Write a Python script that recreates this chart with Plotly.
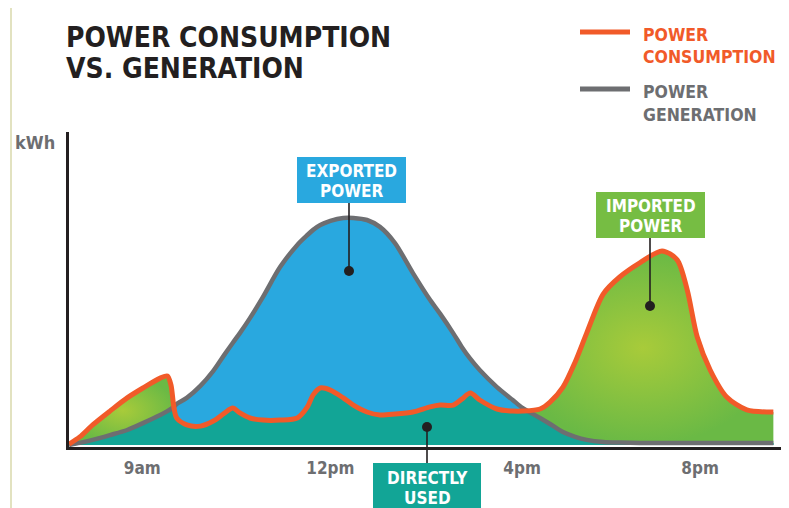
import plotly.graph_objects as go

# ---------------- data ----------------
# time index along the day (0 = axis origin, 100 = right end of axis)
time_idx = [0.0, 1.5, 3.3, 5.7, 8.1, 10.3, 12.7, 13.7, 14.2, 14.6, 15.0, 16.4, 18.3,
            20.1, 21.7, 22.8, 23.8, 25.2, 27.0, 29.4, 31.8, 33.2, 34.0, 35.0, 36.4,
            38.2, 39.6, 41.5, 43.3, 45.4, 47.9, 50.3, 51.7, 53.5, 54.7, 55.9, 57.2,
            59.6, 61.8, 63.2, 65.6, 67.0, 68.8, 70.5, 72.1, 74.4, 76.7, 79.5, 82.6,
            84.7, 86.1, 87.5, 89.3, 91.6, 94.4, 98.1]

generation_kwh = [0.0, 0.7, 1.7, 3.3, 5.0, 7.3, 10.0, 11.3, 12.0, 12.7, 13.7, 15.7, 19.7,
                  24.7, 30.3, 34.0, 37.3, 42.3, 49.3, 59.3, 66.7, 70.0, 71.7, 73.3, 74.7,
                  75.7, 75.7, 75.0, 72.7, 67.3, 57.3, 48.3, 43.7, 37.3, 32.7, 28.7, 25.0,
                  19.3, 15.0, 12.3, 9.0, 7.0, 4.3, 2.7, 1.7, 1.0, 0.8, 0.7, 0.7,
                  0.7, 0.7, 0.7, 0.7, 0.7, 0.7, 0.7]

consumption_kwh = [0.3, 2.7, 6.7, 11.3, 15.7, 19.0, 22.3, 23.0, 20.0, 12.7, 9.0, 6.7, 6.3,
                   8.0, 10.7, 12.3, 10.7, 9.0, 8.3, 8.3, 9.0, 12.7, 16.7, 19.0, 18.3,
                   15.7, 13.3, 11.0, 10.0, 10.3, 11.0, 12.7, 13.3, 13.3, 15.3, 17.3, 15.0,
                   12.0, 11.3, 11.3, 12.0, 14.3, 19.3, 27.7, 37.3, 50.3, 56.0, 60.7, 64.7,
                   61.7, 51.7, 36.0, 25.0, 16.0, 11.7, 11.0]

tick_positions = [10.2, 36.4, 63.1, 87.9]
tick_labels = ["9am", "12pm", "4pm", "8pm"]

# ---------------- styling ----------------
FONT = "DejaVu Sans Condensed, Liberation Sans Narrow, Arial Narrow, sans-serif"
ORANGE = "#f15a29"
GRAY = "#6d6e71"
BLUE = "#29a8df"
TEAL = "#12a596"
GREEN = "#76bd43"
DARK = "#231f20"

# the page body adds an 8px margin, so the figure is drawn 8px smaller and
# all reference-pixel positions are shifted by that offset
OFF = 8
W_PX, H_PX = 789 - OFF, 508 - OFF
L, R, T, B = 69 - OFF, 787 - OFF, 132 - OFF, 447 - OFF


def fx(px):
    return (px - OFF - L) / (R - L)


def fy(py):
    return (B - (py - OFF)) / (B - T)


directly_used = [min(c, g) for c, g in zip(consumption_kwh, generation_kwh)]

# split indices for the two "imported" (green) regions
left_end = time_idx.index(15.0) + 1
right_start = time_idx.index(61.8)

fig = go.Figure()

green_grad = dict(type="radial", colorscale=[[0, "#a8cb3a"], [1, "#6ab945"]])
SPL = dict(shape="spline", smoothing=0.8)

# imported power (consumption above generation) - left lobe
fig.add_trace(go.Scatter(
    x=time_idx[:left_end], y=consumption_kwh[:left_end], mode="none",
    fill="tozeroy", fillcolor=GREEN, fillgradient=green_grad, line=SPL,
    hoverinfo="skip"))
# imported power - right lobe
fig.add_trace(go.Scatter(
    x=time_idx[right_start:], y=consumption_kwh[right_start:], mode="none",
    fill="tozeroy", fillcolor=GREEN, fillgradient=green_grad, line=SPL,
    hoverinfo="skip"))
# exported power (area under generation)
fig.add_trace(go.Scatter(
    x=time_idx, y=generation_kwh, mode="none", fill="tozeroy", fillcolor=BLUE,
    line=SPL, hoverinfo="skip"))
# directly used (min of both)
fig.add_trace(go.Scatter(
    x=time_idx, y=directly_used, mode="none", fill="tozeroy", fillcolor=TEAL,
    line=SPL, hoverinfo="skip"))
# generation line
fig.add_trace(go.Scatter(
    x=time_idx, y=generation_kwh, mode="lines", name="Power generation",
    line=dict(color=GRAY, width=4.5, **SPL)))
# consumption line
fig.add_trace(go.Scatter(
    x=time_idx, y=consumption_kwh, mode="lines", name="Power consumption",
    line=dict(color=ORANGE, width=5, **SPL)))

shapes = []
annotations = []

# page border lines
shapes.append(dict(type="line", xref="paper", yref="paper", x0=fx(11), x1=fx(11),
                   y0=fy(3), y1=fy(508), line=dict(color="#cfcf96", width=1.2)))
shapes.append(dict(type="line", xref="paper", yref="paper", x0=fx(11), x1=fx(789),
                   y0=fy(3.5), y1=fy(3.5), line=dict(color="#d8d8b8", width=1.2)))

# title
for txt, cy in [("POWER CONSUMPTION", 37.5), ("VS. GENERATION", 68.5)]:
    annotations.append(dict(text=f"<b>{txt}</b>", x=fx(64), y=fy(cy), xref="paper",
                            yref="paper", xanchor="left", yanchor="middle",
                            showarrow=False, font=dict(family=FONT, size=28, color=DARK)))

# legend
for ly, col, l1, l2, cy1, cy2 in [(32, ORANGE, "POWER", "CONSUMPTION", 34.5, 57.5),
                                  (89, GRAY, "POWER", "GENERATION", 91.5, 114.5)]:
    shapes.append(dict(type="line", xref="paper", yref="paper", x0=fx(580), x1=fx(630),
                       y0=fy(ly), y1=fy(ly), line=dict(color=col, width=5)))
    for txt, cy in [(l1, cy1), (l2, cy2)]:
        annotations.append(dict(text=f"<b>{txt}</b>", x=fx(641), y=fy(cy), xref="paper",
                                yref="paper", xanchor="left", yanchor="middle",
                                showarrow=False,
                                font=dict(family=FONT, size=17.5, color=col)))

# kWh label
annotations.append(dict(text="<b>kWh</b>", x=fx(35), y=fy(142), xref="paper", yref="paper",
                        xanchor="center", yanchor="middle", showarrow=False,
                        font=dict(family=FONT, size=18, color=GRAY)))

# callout boxes
callouts = [
    (297, 406, 157, 203, BLUE, [("EXPORTED", 171), ("POWER", 191)], (349, 271)),
    (596, 705, 192, 238, GREEN, [("IMPORTED", 205.5), ("POWER", 225.5)], (650, 306)),
    (373, 481, 463, 512, TEAL, [("DIRECTLY", 477.5), ("USED", 497.5)], (427, 427)),
]
for x0, x1, y0, y1, col, lines, (dx, dy) in callouts:
    shapes.append(dict(type="rect", xref="paper", yref="paper", x0=fx(x0), x1=fx(x1),
                       y0=fy(y0), y1=fy(y1), fillcolor=col, line=dict(width=0)))
    edge = y1 if dy > y1 else y0
    shapes.append(dict(type="line", xref="paper", yref="paper", x0=fx(dx), x1=fx(dx),
                       y0=fy(edge), y1=fy(dy), line=dict(color=DARK, width=1.6)))
    shapes.append(dict(type="circle", xref="paper", yref="paper", x0=fx(dx - 5),
                       x1=fx(dx + 5), y0=fy(dy - 5), y1=fy(dy + 5), fillcolor=DARK,
                       line=dict(width=0)))
    cx = (x0 + x1) / 2
    for txt, cy in lines:
        annotations.append(dict(text=f"<b>{txt}</b>", x=fx(cx), y=fy(cy), xref="paper",
                                yref="paper", xanchor="center", yanchor="middle",
                                showarrow=False,
                                font=dict(family=FONT, size=17, color="white")))

fig.update_layout(
    width=W_PX, height=H_PX,
    margin=dict(l=L, r=W_PX - R, t=T, b=H_PX - B, pad=0),
    paper_bgcolor="white", plot_bgcolor="white",
    showlegend=False,
    shapes=shapes, annotations=annotations,
    xaxis=dict(range=[0, 100], showgrid=False, zeroline=False, showline=True,
               linecolor=DARK, linewidth=3, tickvals=tick_positions,
               ticktext=[f"<b>{t}</b>" for t in tick_labels],
               ticks="", ticklabelstandoff=4,
               tickfont=dict(family=FONT, size=17, color=GRAY), fixedrange=True),
    yaxis=dict(range=[-2 / 3, 313 / 3], showgrid=False, zeroline=False, showline=True,
               linecolor=DARK, linewidth=3, showticklabels=False, ticks="",
               fixedrange=True),
)

fig.write_html("out.html")
